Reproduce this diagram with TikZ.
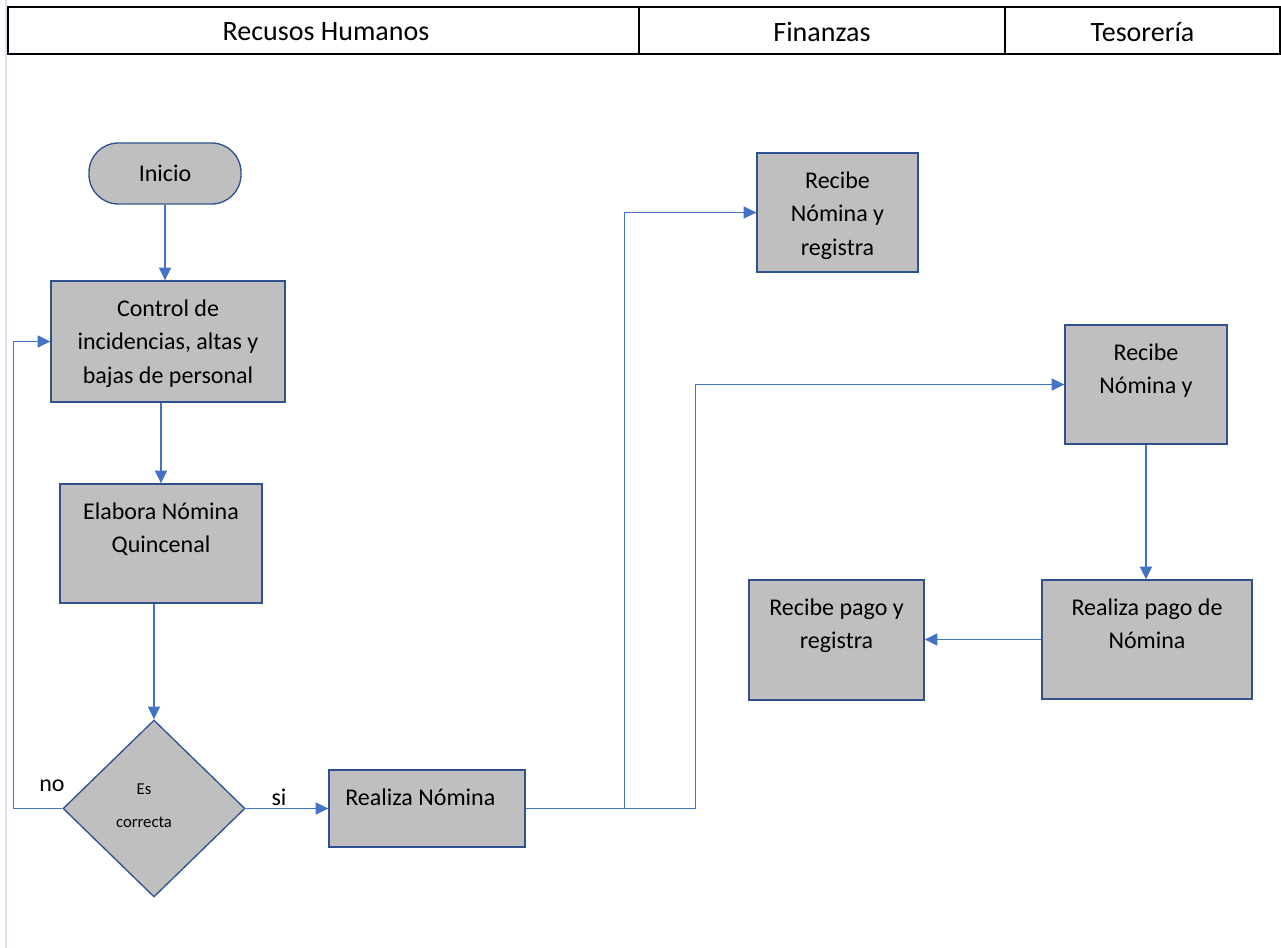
\documentclass[tikz,border=0pt]{standalone}
\usepackage{fontspec}
\setmainfont{Carlito}
\usetikzlibrary{arrows.meta,shapes.geometric}
\definecolor{boxfill}{HTML}{BFBFBF}
\definecolor{boxline}{HTML}{2F528F}
\definecolor{flow}{HTML}{4472C4}
\definecolor{margin}{HTML}{D9E0F2}
\begin{document}
\begin{tikzpicture}[x=0.75pt,y=-0.75pt,
  proc/.style={draw=boxline, fill=boxfill, line width=1pt, inner sep=0pt},
  txt/.style={font=\fontsize{18}{25}\selectfont, align=center, inner sep=0pt, anchor=north},
  lbl/.style={font=\fontsize{18}{22}\selectfont, inner sep=0pt},
  flowline/.style={draw=flow, line width=1.2pt},
  arr/.style={flowline, -{Triangle[length=9.5pt,width=9pt]}},
  lane/.style={draw=black, line width=1.6pt},
  head/.style={font=\fontsize{21}{24}\selectfont, inner sep=0pt}]

\useasboundingbox (0,0) rectangle (1281,948);
\fill[white] (0,0) rectangle (1281,948);
\draw[margin, line width=1.5pt] (6,0) -- (6,948);

% swimlane header
\draw[lane] (8,7) rectangle (1280,54);
\draw[lane] (639,7) -- (639,54);
\draw[lane] (1005,7) -- (1005,54);
\node[head] (hrh) at (326,32) {Recusos Humanos};
\node[head] (hfin) at (822,32) {Finanzas};
\node[head] (htes) at (1142.5,32) {Tesorería};

% process shapes
\node[proc, rounded corners=22pt, minimum width=152*0.75pt, minimum height=61*0.75pt,
      font=\fontsize{18}{22}\selectfont] (ini) at (165,173.5) {Inicio};
\node[proc, minimum width=234*0.75pt, minimum height=121*0.75pt] (ctrl) at (168,341.5) {};
\node[proc, minimum width=202*0.75pt, minimum height=119*0.75pt] (elab) at (161,543.5) {};
\node[proc, diamond, minimum width=182*0.75pt, minimum height=177*0.75pt] (dia) at (154,808.5) {};
\node[proc, minimum width=196*0.75pt, minimum height=77*0.75pt] (real) at (427,808.5) {};
\node[proc, minimum width=161*0.75pt, minimum height=119*0.75pt] (freci) at (837.5,212.5) {};
\node[proc, minimum width=162*0.75pt, minimum height=119*0.75pt] (treci) at (1146,384.5) {};
\node[proc, minimum width=210*0.75pt, minimum height=119*0.75pt] (pago) at (1147,639.5) {};
\node[proc, minimum width=175*0.75pt, minimum height=120*0.75pt] (rpago) at (836.5,640) {};

% texts inside the shapes
\node[txt] (ctrl-t) at ([yshift=-14.5pt]ctrl.north) {Control de\\incidencias, altas y\\bajas de personal};
\node[txt] (elab-t) at ([yshift=-14.5pt]elab.north) {Elabora Nómina\\Quincenal};
\node[font=\fontsize{12.5}{25}\selectfont, align=center, inner sep=0pt] (dia-t) at (144,806) {Es\\correcta};
\node[txt] (real-t) at ([xshift=-5pt,yshift=-14.5pt]real.north) {Realiza Nómina};
\node[txt] (freci-t) at ([yshift=-14.5pt]freci.north) {Recibe\\Nómina y\\registra};
\node[txt] (treci-t) at ([yshift=-14.5pt]treci.north) {Recibe\\Nómina y};
\node[txt] (pago-t) at ([yshift=-14.5pt]pago.north) {Realiza pago de\\Nómina};
\node[txt] (rpago-t) at ([yshift=-14.5pt]rpago.north) {Recibe pago y\\registra};

% decision labels
\node[lbl] (no) at (52,786) {no};
\node[lbl] (si) at (279,797) {si};

% connectors
\draw[arr] (ini.south) -- (ini.south |- ctrl.north);
\draw[arr] (elab.north |- ctrl.south) -- (elab.north);
\draw[arr] (dia.north |- elab.south) -- (dia.north);
\draw[arr] (dia.west) -- ++(-49,0) |- (ctrl.west);
\draw[arr] (dia.east) -- (real.west);
\draw[arr] (real.east) -- ++(99,0) |- (freci.west);
\draw[arr] (real.east) -- ++(170,0) |- (treci.west);
\draw[arr] (treci.south) -- (treci.south |- pago.north);
\draw[arr] (pago.west) -- (pago.west -| rpago.east);
\end{tikzpicture}
\end{document}
